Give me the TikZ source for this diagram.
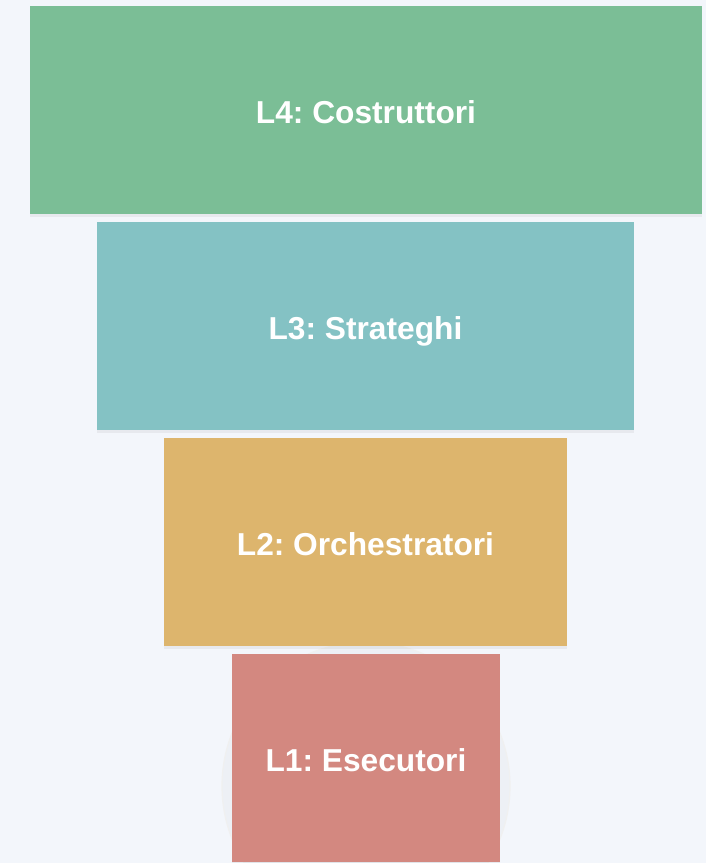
\documentclass[tikz,border=0pt]{standalone}
\usepackage{fontspec}
\setmainfont{Liberation Sans}
\usetikzlibrary{shadows}
\frenchspacing

\definecolor{bgcol}{HTML}{F3F6FB}
\definecolor{coscol}{HTML}{7BBE96}
\definecolor{strcol}{HTML}{84C2C4}
\definecolor{orccol}{HTML}{DDB56D}
\definecolor{esecol}{HTML}{D38880}

\tikzset{
  level/.style={minimum height=208pt, inner sep=0pt, text=white,
    text height=27.7pt, text depth=0pt,
    font=\bfseries\fontsize{31.7}{38}\selectfont,
    drop shadow={shadow xshift=0pt, shadow yshift=-2.5pt, opacity=0.10}},
}

\begin{document}
\begin{tikzpicture}[x=1pt,y=-1pt]
            \useasboundingbox[fill=bgcol] (0,0) rectangle (706,863);
            \draw[black!6, line width=1.2pt, fill=black, fill opacity=0.025] (366,786) circle (144);

            \node[level, fill=coscol, minimum width=672pt] (cos) at (366,110) {L4: Costruttori};
            \node[level, fill=strcol, minimum width=537pt] (str) at (365.5,326) {L3: Strateghi};
            \node[level, fill=orccol, minimum width=403pt] (orc) at (365.5,542) {L2: Orchestratori};
            \node[level, fill=esecol, minimum width=268pt] (ese) at (366,758) {L1: Esecutori};
        \end{tikzpicture}
\end{document}
